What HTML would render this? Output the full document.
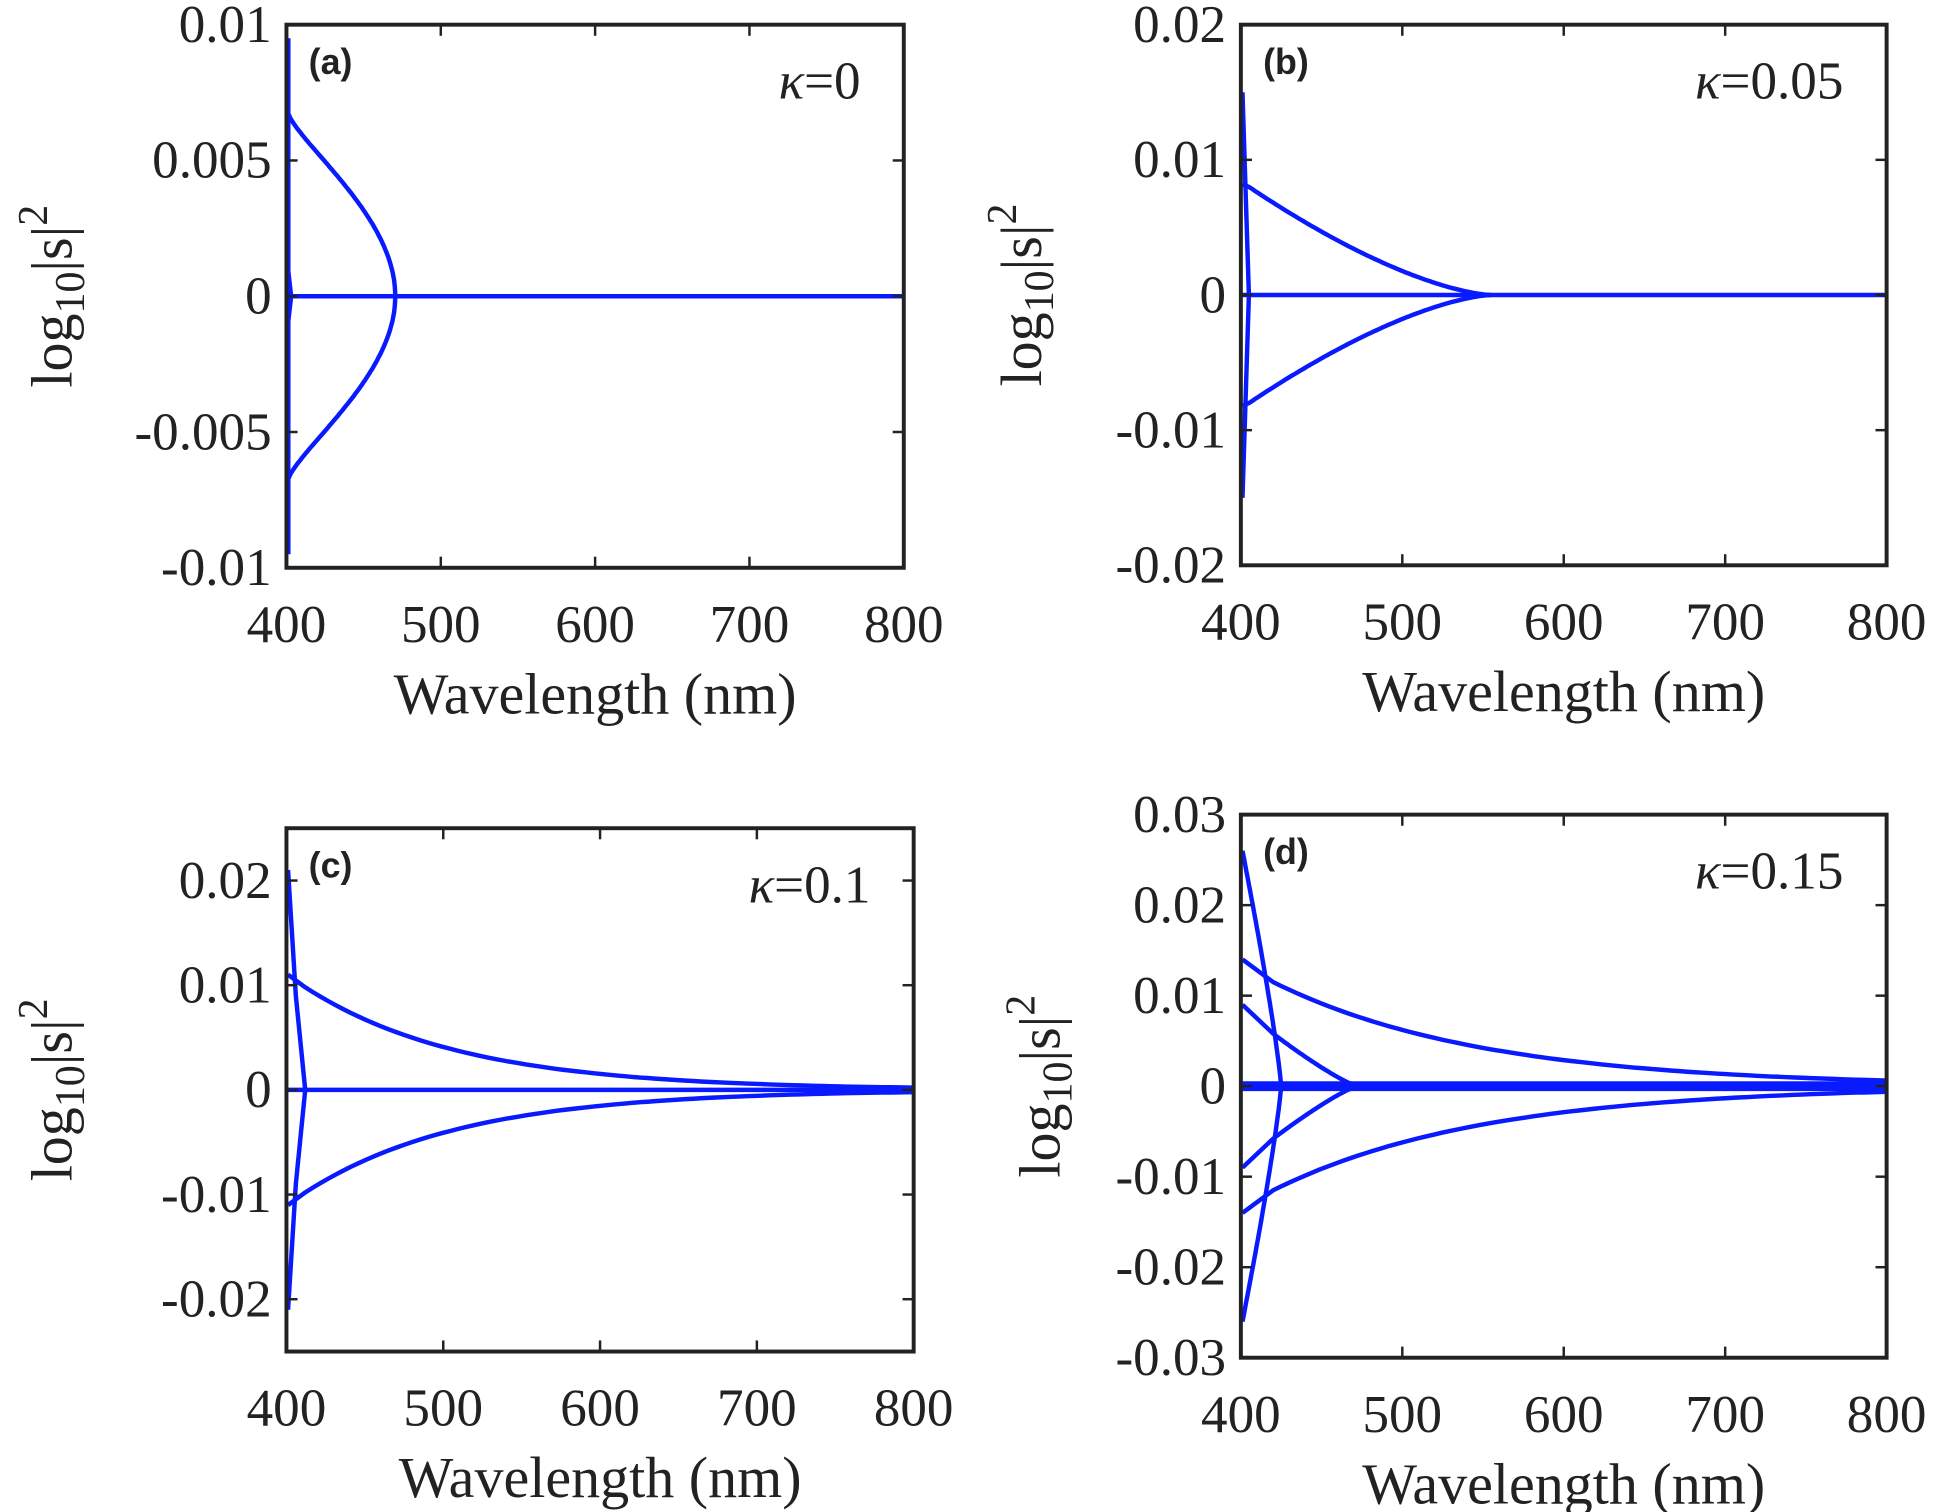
<!DOCTYPE html>
<html><head><meta charset="utf-8"><style>
html,body{margin:0;padding:0;background:#fff}
svg{display:block}
text{font-family:"Liberation Serif",serif;fill:#222}
.b{font-family:"Liberation Sans",sans-serif;font-weight:bold}
</style></head><body>
<svg id="s" width="1936" height="1512" viewBox="0 0 1568 1225" preserveAspectRatio="none" xmlns="http://www.w3.org/2000/svg"></svg>
<script>
const S=document.getElementById('s');let h='';
function panel(o){
 const {x0,x1,y0,y1,ymax,yt,lab,kap,ylx,curves}=o;
 const X=l=>x0+(l-400)/400*(x1-x0), Y=v=>y0+(ymax-v)/(2*ymax)*(y1-y0);
 for(const c of curves){let d='';for(let i=0;i<c.length;i++)d+=(i?'L':'M')+X(c[i][0]).toFixed(1)+','+Y(c[i][1]).toFixed(1);
  h+=`<path d="${d}" fill="none" stroke="#0a1aff" stroke-width="3.6" stroke-linejoin="round"/>`;}
 h+=`<rect x="${x0}" y="${y0}" width="${x1-x0}" height="${y1-y0}" fill="none" stroke="#222" stroke-width="3.2"/>`;
 for(let l=400;l<=800;l+=100){const x=X(l);
  h+=`<line x1="${x}" y1="${y1}" x2="${x}" y2="${y1-9}" stroke="#222" stroke-width="2"/><line x1="${x}" y1="${y0}" x2="${x}" y2="${y0+9}" stroke="#222" stroke-width="2"/>`;
  h+=`<text x="${x}" y="${y1+60}" font-size="43" text-anchor="middle">${l}</text>`;}
 for(const [v,t] of yt){const y=Y(v);
  h+=`<line x1="${x0}" y1="${y}" x2="${x0+9}" y2="${y}" stroke="#222" stroke-width="2"/><line x1="${x1}" y1="${y}" x2="${x1-9}" y2="${y}" stroke="#222" stroke-width="2"/>`;
  h+=`<text x="${x0-12}" y="${y+14}" font-size="43" text-anchor="end">${t}</text>`;}
 h+=`<text x="${(x0+x1)/2}" y="${y1+118}" font-size="47" text-anchor="middle">Wavelength (nm)</text>`;
 const yc=(y0+y1)/2;
 h+=`<text transform="translate(${ylx},${yc}) rotate(-90)" font-size="47" text-anchor="middle">log<tspan font-size="34" dy="10">10</tspan><tspan dy="-10">|s|</tspan><tspan font-size="34" dy="-20">2</tspan></text>`;
 h+=`<text class="b" x="${x0+18}" y="${y0+40}" font-size="29">${lab}</text>`;
 h+=`<text x="${x1-35}" y="${y0+60}" font-size="43" text-anchor="end"><tspan font-style="italic">κ</tspan>=${kap}</text>`;
}
function fn(a,b,f,n=80){const r=[];for(let i=0;i<=n;i++){const l=a+(b-a)*i/n;r.push([l,f(l)]);}return r;}
function mir(c){return c.map(p=>[p[0],-p[1]]);}
let ca=[];for(let i=0;i<=80;i++){const u=i/80;ca.push([401.5+69*Math.pow(1-u,1.3)*(1+1.3*u),0.0067*u]);}
panel({x0:232,x1:732,y0:20,y1:460,ymax:0.01,yt:[[0.01,'0.01'],[0.005,'0.005'],[0,'0'],[-0.005,'-0.005'],[-0.01,'-0.01']],lab:'(a)',kap:'0',ylx:58,
 curves:[[[401.2,0.0095],[401.2,-0.0095]],[[400,0],[800,0]],ca,mir(ca),[[401,0.001],[403,0],[401,-0.001]]]});
let cb=fn(405,555,l=>0.008*Math.pow(1-(l-405)/150,1.5));cb.unshift([401,0.0082]);
panel({x0:1005,x1:1528,y0:20,y1:458,ymax:0.02,yt:[[0.02,'0.02'],[0.01,'0.01'],[0,'0'],[-0.01,'-0.01'],[-0.02,'-0.02']],lab:'(b)',kap:'0.05',ylx:843,
 curves:[[[401,0.015],[405,0],[401,-0.015]],[[400,0],[800,0]],cb,mir(cb)]});
let cc=fn(412,800,l=>0.0098*Math.exp(-(l-412)/101));cc.unshift([401,0.011]);
panel({x0:232,x1:740,y0:671,y1:1095,ymax:0.025,yt:[[0.02,'0.02'],[0.01,'0.01'],[0,'0'],[-0.01,'-0.01'],[-0.02,'-0.02']],lab:'(c)',kap:'0.1',ylx:58,
 curves:[[[401,0.021],[406,0.009],[412,0],[406,-0.009],[401,-0.021]],[[400,0],[800,0]],cc,mir(cc)]});
let cd=fn(420,800,l=>0.0115*Math.exp(-(l-420)/130));cd.unshift([401,0.014]);
let ce=fn(420,472,l=>0.0058*Math.pow(1-(l-420)/52,1.2));ce.unshift([401,0.009]);
let cf=fn(401,425,l=>0.026*Math.pow(1-(l-401)/24,0.85),30);
panel({x0:1005,x1:1528,y0:660,y1:1100,ymax:0.03,yt:[[0.03,'0.03'],[0.02,'0.02'],[0.01,'0.01'],[0,'0'],[-0.01,'-0.01'],[-0.02,'-0.02'],[-0.03,'-0.03']],lab:'(d)',kap:'0.15',ylx:858,
 curves:[[[400,0],[800,0]],[[400,0.0003],[800,0.0003]],[[400,-0.0003],[800,-0.0003]],cd,mir(cd),ce,mir(ce),cf,mir(cf)]});
S.innerHTML=h;
</script>
</body></html>
